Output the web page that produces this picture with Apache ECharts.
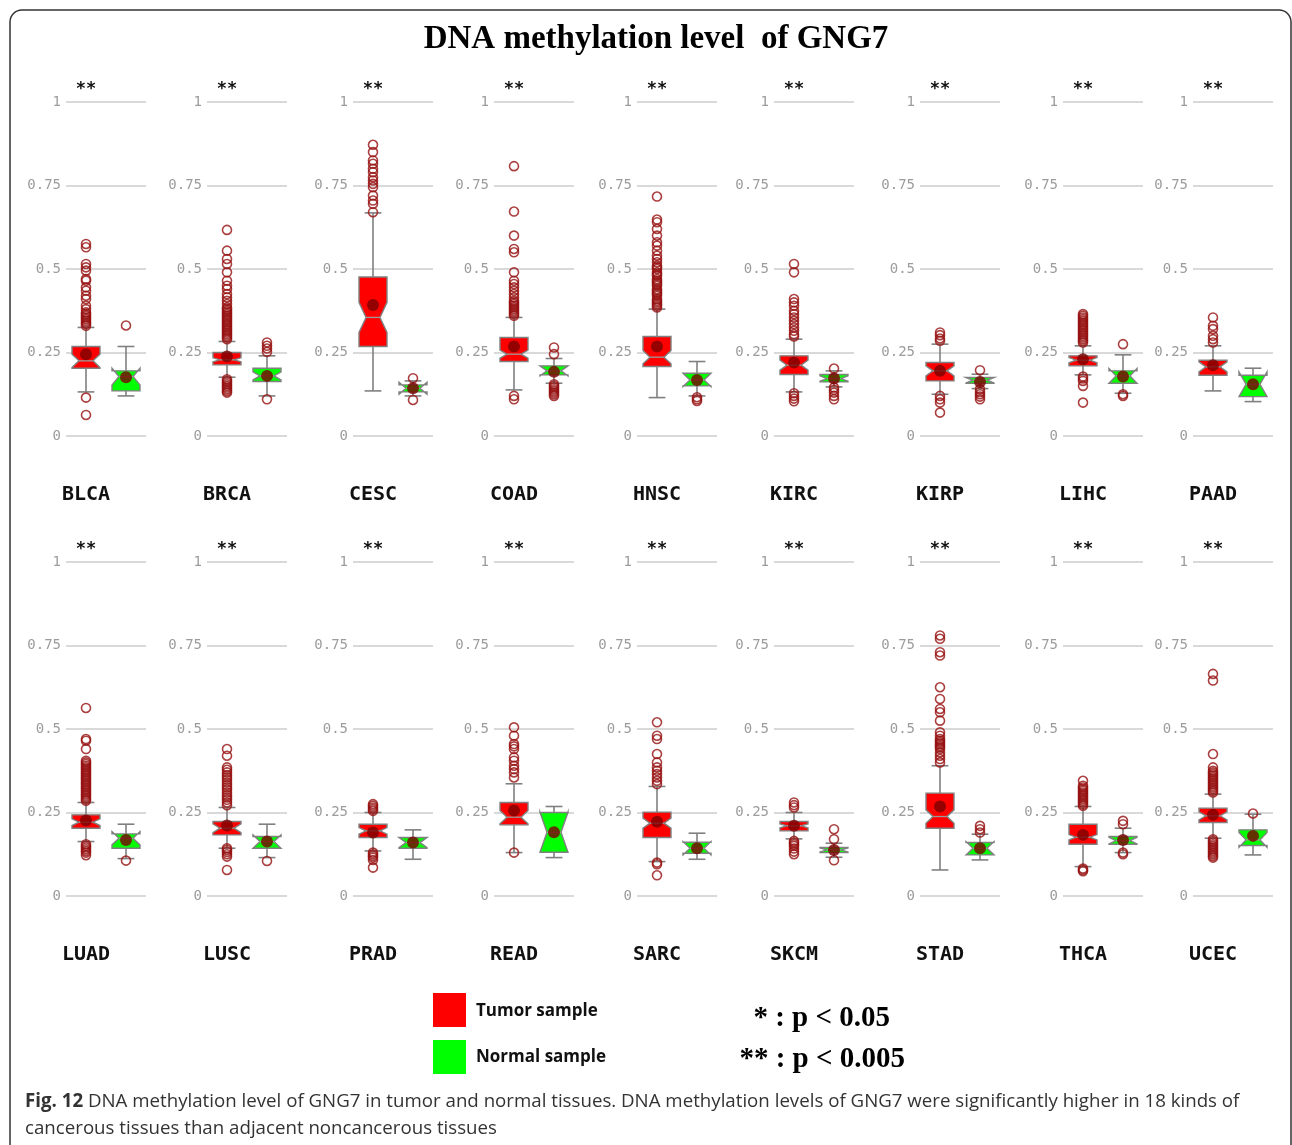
<!DOCTYPE html>
<html>
<head>
<meta charset="utf-8">
<script src="https://cdn.jsdelivr.net/npm/echarts@6/dist/echarts.min.js"></script>
<style>
  html, body { margin: 0; padding: 0; background: #fff; }
  #chart { width: 1292px; height: 1145px; }
</style>
</head>
<body>
<div id="chart"></div>
<script>
// Cancer types, one small panel each (two rows of nine)
const cancers = ['BLCA', 'BRCA', 'CESC', 'COAD', 'HNSC', 'KIRC', 'KIRP', 'LIHC', 'PAAD',
                 'LUAD', 'LUSC', 'PRAD', 'READ', 'SARC', 'SKCM', 'STAD', 'THCA', 'UCEC'];
const significance = ['**', '**', '**', '**', '**', '**', '**', '**', '**',
                      '**', '**', '**', '**', '**', '**', '**', '**', '**'];
const groups = ['Tumor', 'Normal'];
const yTicks = [0, 0.25, 0.5, 0.75, 1];

// Box statistics: [lower whisker, Q1, median, Q3, upper whisker]
const tumorBox = [
  [0.132, 0.203, 0.225, 0.268, 0.325],
  [0.176, 0.213, 0.228, 0.250, 0.283],
  [0.135, 0.268, 0.355, 0.476, 0.668],
  [0.138, 0.223, 0.245, 0.295, 0.355],
  [0.115, 0.208, 0.236, 0.298, 0.380],
  [0.132, 0.184, 0.212, 0.240, 0.290],
  [0.125, 0.165, 0.195, 0.220, 0.275],
  [0.183, 0.210, 0.227, 0.240, 0.270],
  [0.135, 0.182, 0.207, 0.227, 0.270],
  [0.163, 0.203, 0.221, 0.243, 0.280],
  [0.143, 0.183, 0.203, 0.223, 0.265],
  [0.135, 0.175, 0.195, 0.215, 0.250],
  [0.130, 0.213, 0.236, 0.280, 0.336],
  [0.103, 0.175, 0.218, 0.251, 0.328],
  [0.171, 0.195, 0.210, 0.223, 0.250],
  [0.078, 0.203, 0.238, 0.308, 0.390],
  [0.088, 0.155, 0.176, 0.215, 0.268],
  [0.173, 0.220, 0.240, 0.263, 0.305]
];
const normalBox = [
  [0.120, 0.135, 0.178, 0.195, 0.268],
  [0.120, 0.163, 0.180, 0.203, 0.240],
  [0.120, 0.132, 0.143, 0.153, 0.165],
  [0.158, 0.183, 0.195, 0.210, 0.232],
  [0.120, 0.150, 0.168, 0.188, 0.223],
  [0.147, 0.162, 0.172, 0.184, 0.195],
  [0.142, 0.158, 0.167, 0.175, 0.185],
  [0.128, 0.158, 0.180, 0.195, 0.243],
  [0.103, 0.118, 0.155, 0.182, 0.203],
  [0.112, 0.143, 0.173, 0.186, 0.215],
  [0.115, 0.143, 0.163, 0.178, 0.215],
  [0.110, 0.143, 0.160, 0.175, 0.198],
  [0.115, 0.131, 0.191, 0.250, 0.268],
  [0.110, 0.128, 0.143, 0.161, 0.188],
  [0.116, 0.130, 0.138, 0.145, 0.158],
  [0.108, 0.123, 0.143, 0.160, 0.185],
  [0.130, 0.155, 0.166, 0.178, 0.203],
  [0.123, 0.151, 0.168, 0.198, 0.245]
];

// Notch half-heights around the median
const tumorNotch  = [0.020, 0.006, 0.045, 0.012, 0.020, 0.015, 0.015, 0.008, 0.015,
                     0.010, 0.013, 0.010, 0.020, 0.015, 0.006, 0.020, 0.008, 0.012];
const normalNotch = [0.025, 0.012, 0.018, 0.015, 0.020, 0.008, 0.008, 0.022, 0.037,
                     0.020, 0.020, 0.015, 0.060, 0.020, 0.006, 0.020, 0.010, 0.022];

// Group means (filled dots)
const tumorMean  = [0.245, 0.238, 0.392, 0.268, 0.268, 0.220, 0.195, 0.230, 0.212,
                    0.226, 0.211, 0.190, 0.256, 0.222, 0.210, 0.268, 0.183, 0.243];
const normalMean = [0.176, 0.180, 0.143, 0.192, 0.168, 0.172, 0.162, 0.178, 0.155,
                    0.168, 0.163, 0.160, 0.191, 0.143, 0.138, 0.143, 0.168, 0.180];

// Outlying samples
const tumorOutliers = [
  [0.575, 0.565, 0.515, 0.505, 0.495, 0.47, 0.465, 0.445, 0.435, 0.42, 0.41, 0.39, 0.38, 0.37, 0.365, 0.36, 0.355, 0.35, 0.345, 0.34, 0.335, 0.33, 0.115, 0.063],
  [0.617, 0.555, 0.53, 0.515, 0.49, 0.465, 0.45, 0.44, 0.425, 0.415, 0.405, 0.395, 0.385, 0.38, 0.375, 0.37, 0.365, 0.36, 0.355, 0.35, 0.345, 0.34, 0.335, 0.33, 0.325, 0.32, 0.315, 0.31, 0.305, 0.3, 0.295, 0.29, 0.17, 0.165, 0.16, 0.155, 0.15, 0.145, 0.14, 0.135, 0.13],
  [0.872, 0.85, 0.825, 0.815, 0.8, 0.79, 0.775, 0.765, 0.755, 0.745, 0.72, 0.705, 0.695, 0.67],
  [0.808, 0.672, 0.6, 0.56, 0.55, 0.49, 0.465, 0.455, 0.445, 0.435, 0.425, 0.415, 0.405, 0.4, 0.395, 0.39, 0.385, 0.38, 0.375, 0.37, 0.365, 0.36, 0.12, 0.11],
  [0.717, 0.648, 0.64, 0.62, 0.6, 0.58, 0.57, 0.555, 0.54, 0.53, 0.52, 0.51, 0.505, 0.5, 0.49, 0.485, 0.48, 0.47, 0.465, 0.46, 0.455, 0.45, 0.44, 0.435, 0.43, 0.425, 0.42, 0.41, 0.405, 0.4, 0.395, 0.39, 0.385],
  [0.515, 0.49, 0.41, 0.4, 0.39, 0.375, 0.365, 0.355, 0.345, 0.335, 0.325, 0.315, 0.305, 0.298, 0.128, 0.12, 0.112, 0.104],
  [0.31, 0.302, 0.292, 0.285, 0.12, 0.11, 0.1, 0.07],
  [0.365, 0.36, 0.355, 0.35, 0.345, 0.34, 0.335, 0.33, 0.325, 0.32, 0.315, 0.31, 0.305, 0.3, 0.295, 0.29, 0.285, 0.28, 0.178, 0.172, 0.165, 0.15, 0.1],
  [0.355, 0.33, 0.32, 0.3, 0.29, 0.28],
  [0.563, 0.47, 0.465, 0.44, 0.405, 0.4, 0.395, 0.39, 0.385, 0.38, 0.375, 0.37, 0.365, 0.36, 0.355, 0.35, 0.345, 0.34, 0.335, 0.33, 0.325, 0.32, 0.315, 0.31, 0.305, 0.3, 0.295, 0.29, 0.285, 0.155, 0.15, 0.145, 0.14, 0.135, 0.13, 0.122],
  [0.44, 0.42, 0.385, 0.378, 0.37, 0.362, 0.355, 0.348, 0.34, 0.332, 0.325, 0.318, 0.31, 0.302, 0.295, 0.288, 0.28, 0.272, 0.143, 0.138, 0.132, 0.125, 0.118, 0.078],
  [0.275, 0.27, 0.265, 0.26, 0.255, 0.13, 0.125, 0.12, 0.115, 0.108, 0.085],
  [0.505, 0.48, 0.455, 0.448, 0.44, 0.415, 0.405, 0.39, 0.38, 0.37, 0.355, 0.13],
  [0.52, 0.48, 0.47, 0.425, 0.4, 0.385, 0.375, 0.365, 0.355, 0.345, 0.335, 0.1, 0.095, 0.062],
  [0.28, 0.272, 0.265, 0.165, 0.16, 0.155, 0.15, 0.142, 0.133, 0.125],
  [0.78, 0.77, 0.73, 0.72, 0.625, 0.59, 0.56, 0.55, 0.525, 0.49, 0.48, 0.47, 0.465, 0.46, 0.455, 0.45, 0.445, 0.44, 0.43, 0.42, 0.41, 0.4],
  [0.345, 0.33, 0.325, 0.32, 0.315, 0.31, 0.305, 0.3, 0.295, 0.29, 0.285, 0.28, 0.275, 0.27, 0.082, 0.078, 0.074],
  [0.665, 0.645, 0.425, 0.385, 0.375, 0.37, 0.365, 0.36, 0.355, 0.35, 0.345, 0.34, 0.335, 0.33, 0.325, 0.32, 0.315, 0.31, 0.17, 0.165, 0.16, 0.155, 0.15, 0.145, 0.14, 0.135, 0.13, 0.125, 0.12, 0.115]
];
const normalOutliers = [
  [0.331],
  [0.28, 0.27, 0.262, 0.252, 0.11],
  [0.173, 0.108],
  [0.265, 0.245, 0.155, 0.15, 0.145, 0.14, 0.135, 0.13, 0.125, 0.12],
  [0.116, 0.11, 0.105],
  [0.202, 0.145, 0.138, 0.13, 0.12, 0.11],
  [0.197, 0.14, 0.132, 0.125, 0.118, 0.11],
  [0.275, 0.125, 0.12],
  [],
  [0.106],
  [0.105],
  [],
  [],
  [],
  [0.2, 0.17, 0.107],
  [0.21, 0.2, 0.19],
  [0.225, 0.215, 0.13, 0.125],
  [0.247]
];

// Panel layout
const colLeft = [66, 207, 353, 494, 637, 774, 920, 1063, 1193];
const rowTop = [102, 562];
const panelW = 80, panelH = 334;

const TUMOR_FILL = '#ff0000';
const NORMAL_FILL = '#00ff00';
const EDGE = '#808080';

// Notched box with whiskers, drawn in axis coordinates
function renderNotchedBox(params, api) {
  const ci = api.value(0);
  const low = api.value(1), q1 = api.value(2), med = api.value(3),
        q3 = api.value(4), high = api.value(5), notch = api.value(6);
  const cx = api.coord([ci, med])[0];
  const hw = api.size([1, 0])[0] * 0.35;
  const cap = hw * 0.6;
  const py = v => api.coord([ci, v])[1];
  const ls = { stroke: EDGE, lineWidth: 1.6 };
  const pts = [
    [cx - hw, py(q1)], [cx - hw, py(med - notch)], [cx - hw * 0.5, py(med)],
    [cx - hw, py(med + notch)], [cx - hw, py(q3)],
    [cx + hw, py(q3)], [cx + hw, py(med + notch)], [cx + hw * 0.5, py(med)],
    [cx + hw, py(med - notch)], [cx + hw, py(q1)]
  ];
  return {
    type: 'group',
    children: [
      { type: 'line', shape: { x1: cx, y1: py(q3), x2: cx, y2: py(high) }, style: ls },
      { type: 'line', shape: { x1: cx - cap, y1: py(high), x2: cx + cap, y2: py(high) }, style: ls },
      { type: 'line', shape: { x1: cx, y1: py(q1), x2: cx, y2: py(low) }, style: ls },
      { type: 'line', shape: { x1: cx - cap, y1: py(low), x2: cx + cap, y2: py(low) }, style: ls },
      { type: 'polygon', shape: { points: pts },
        style: { fill: ci === 0 ? TUMOR_FILL : NORMAL_FILL, stroke: EDGE, lineWidth: 1.4 } },
      { type: 'line', shape: { x1: cx - hw * 0.5, y1: py(med), x2: cx + hw * 0.5, y2: py(med) },
        style: { stroke: '#9a9a9a', lineWidth: 1.3 } }
    ]
  };
}

const grids = [], xAxes = [], yAxes = [], series = [];
cancers.forEach((name, g) => {
  const r = Math.floor(g / 9), c = g % 9;
  grids.push({ left: colLeft[c], top: rowTop[r], width: panelW, height: panelH });

  // bottom axis carries the cancer name under the tumor box
  xAxes.push({
    type: 'category', data: groups, gridIndex: g, position: 'bottom',
    axisLine: { show: false }, axisTick: { show: false }, splitLine: { show: false },
    axisLabel: {
      interval: 0, margin: 49,
      formatter: (v, i) => (i === 0 ? name : ''),
      fontFamily: 'DejaVu Sans Mono', fontWeight: 'bold', fontSize: 20, color: '#111'
    }
  });
  // top axis carries the significance mark
  xAxes.push({
    type: 'category', data: groups, gridIndex: g, position: 'top',
    axisLine: { show: false }, axisTick: { show: false }, splitLine: { show: false },
    axisLabel: {
      interval: 0, margin: 4,
      formatter: (v, i) => (i === 0 ? significance[g] : ''),
      fontFamily: 'DejaVu Sans Mono', fontWeight: 'bold', fontSize: 17, color: '#111'
    }
  });
  yAxes.push({
    type: 'value', gridIndex: g,
    min: yTicks[0], max: yTicks[yTicks.length - 1], interval: yTicks[1] - yTicks[0],
    axisLine: { show: false }, axisTick: { show: false },
    axisLabel: { margin: 5, fontFamily: 'DejaVu Sans Mono', fontSize: 14, color: '#9c9c9c' },
    splitLine: { lineStyle: { color: '#cccccc', width: 1.5 } }
  });

  const tb = tumorBox[g], nb = normalBox[g];
  series.push({
    type: 'custom', xAxisIndex: 2 * g, yAxisIndex: g,
    renderItem: renderNotchedBox,
    encode: { x: 0, y: [1, 2, 3, 4, 5] },
    data: [
      [0, tb[0], tb[1], tb[2], tb[3], tb[4], tumorNotch[g]],
      [1, nb[0], nb[1], nb[2], nb[3], nb[4], normalNotch[g]]
    ],
    silent: true, z: 2
  });
  series.push({
    type: 'scatter', xAxisIndex: 2 * g, yAxisIndex: g,
    symbol: 'circle', symbolSize: 9,
    itemStyle: { color: 'rgba(0,0,0,0)', borderColor: '#961010', borderWidth: 1.6 },
    data: tumorOutliers[g].map(v => [0, v]).concat(normalOutliers[g].map(v => [1, v])),
    silent: true, z: 3
  });
  series.push({
    type: 'scatter', xAxisIndex: 2 * g, yAxisIndex: g,
    symbol: 'circle', symbolSize: 12,
    itemStyle: { color: '#7a0000' },
    data: [[0, tumorMean[g]], [1, normalMean[g]]],
    silent: true, z: 4
  });
});

const option = {
  backgroundColor: '#ffffff',
  animation: false,
  grid: grids,
  xAxis: xAxes,
  yAxis: yAxes,
  series: series,
  graphic: [
    { type: 'rect', shape: { x: 10, y: 10, width: 1281, height: 1200, r: 12 },
      style: { fill: 'none', stroke: '#333', lineWidth: 1.5 }, z: 0 },
    { type: 'text', x: 656, y: 39,
      style: { text: 'DNA methylation level  of GNG7', font: 'bold 33px "Liberation Serif"',
               fill: '#000', align: 'center', verticalAlign: 'middle' } },
    { type: 'rect', shape: { x: 433, y: 993, width: 33, height: 34 }, style: { fill: TUMOR_FILL } },
    { type: 'rect', shape: { x: 433, y: 1040, width: 33, height: 34 }, style: { fill: NORMAL_FILL } },
    { type: 'text', x: 476, y: 1011,
      style: { text: 'Tumor sample', font: 'bold 17px "Open Sans"', fill: '#111', verticalAlign: 'middle' } },
    { type: 'text', x: 476, y: 1057,
      style: { text: 'Normal sample', font: 'bold 17px "Open Sans"', fill: '#111', verticalAlign: 'middle' } },
    { type: 'text', x: 890, y: 1019,
      style: { text: '* : p < 0.05', font: 'bold 29px "Liberation Serif"', fill: '#000',
               align: 'right', verticalAlign: 'middle' } },
    { type: 'text', x: 905, y: 1060,
      style: { text: '** : p < 0.005', font: 'bold 29px "Liberation Serif"', fill: '#000',
               align: 'right', verticalAlign: 'middle' } },
    { type: 'text', x: 25, y: 1102,
      style: { text: '{b|Fig. 12} DNA methylation level of GNG7 in tumor and normal tissues. DNA methylation levels of GNG7 were significantly higher in 18 kinds of',
               font: '18.7px "Open Sans"', fill: '#333', verticalAlign: 'middle',
               rich: { b: { font: 'bold 18.7px "Open Sans"', fill: '#333' } } } },
    { type: 'text', x: 25, y: 1129,
      style: { text: 'cancerous tissues than adjacent noncancerous tissues',
               font: '18.7px "Open Sans"', fill: '#333', verticalAlign: 'middle' } }
  ]
};

const chart = echarts.init(document.getElementById('chart'), null, { renderer: 'canvas' });
chart.setOption(option);
</script>
</body>
</html>
